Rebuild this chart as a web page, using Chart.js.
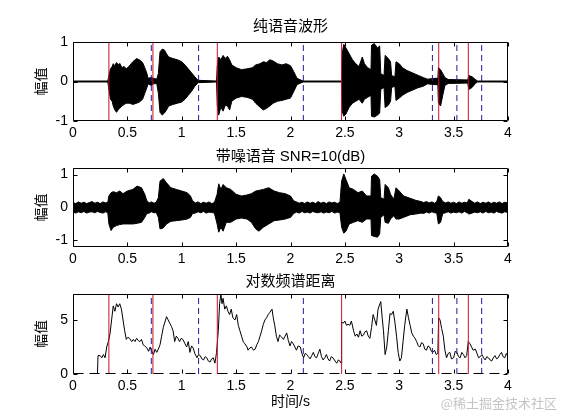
<!DOCTYPE html>
<html><head><meta charset="utf-8">
<script src="https://cdn.jsdelivr.net/npm/chart.js@4.4.1/dist/chart.umd.min.js"></script>
<style>
html,body{margin:0;padding:0;background:#fff;}
body{width:561px;height:420px;overflow:hidden;position:relative;}
canvas{position:absolute;left:0;}
#wm{position:absolute;right:4px;top:393px;font:13px "Noto Sans CJK SC",sans-serif;color:#c4c4c4;}
</style></head><body>
<canvas id="c1" width="561" height="140" style="top:0px"></canvas>
<canvas id="c2" width="561" height="140" style="top:130px"></canvas>
<canvas id="c3" width="561" height="165" style="top:255px"></canvas>
<div id="wm">@稀土掘金技术社区</div>
<script>
// ---------- data ----------
const titles = ['纯语音波形', '带噪语音 SNR=10(dB)', '对数频谱距离'];
const yLabel = '幅值';
const xLabel = '时间/s';
const xTicks = [0, 0.5, 1, 1.5, 2, 2.5, 3, 3.5, 4];
const yTicks1 = [-1, 0, 1];
const yTicks2 = [-1, 0, 1];
const yTicks3 = [0, 5];

// detected speech segment boundaries (s)
const segStarts = [0.33, 0.735, 1.327, 2.47, 3.363, 3.635];
const segEnds   = [0.72, 1.155, 2.118, 3.305, 3.53, 3.758];

// clean speech waveform envelope
const cleanT = [0,0.32,0.33,0.345,0.36,0.37,0.385,0.40,0.42,0.43,0.45,0.47,0.49,0.52,0.55,0.585,0.61,0.64,0.66,0.68,0.69,0.72,0.74,0.77,0.785,0.80,0.82,0.84,0.86,0.88,0.92,0.96,1.00,1.03,1.06,1.09,1.12,1.15,1.32,1.327,1.34,1.36,1.38,1.40,1.42,1.44,1.46,1.50,1.55,1.60,1.65,1.68,1.72,1.75,1.78,1.81,1.84,1.88,1.92,1.96,2.00,2.03,2.06,2.10,2.12,2.47,2.475,2.49,2.51,2.54,2.57,2.60,2.63,2.66,2.68,2.71,2.74,2.745,2.77,2.80,2.82,2.83,2.86,2.87,2.90,2.92,2.93,2.96,2.97,3.00,3.03,3.07,3.12,3.17,3.22,3.26,3.33,3.355,3.36,3.38,3.40,3.42,3.45,3.63,3.64,3.67,3.70,3.72,4.0];
const cleanUpper = [0.012,0.012,0.15,0.32,0.38,0.45,0.40,0.48,0.42,0.46,0.35,0.38,0.32,0.40,0.50,0.58,0.55,0.48,0.35,0.2,0.08,0.1,0.08,0.06,0.2,0.75,0.82,0.80,0.70,0.62,0.58,0.55,0.50,0.42,0.32,0.22,0.12,0.03,0.012,0.4,0.62,0.55,0.66,0.58,0.64,0.55,0.42,0.35,0.30,0.32,0.35,0.42,0.45,0.5,0.48,0.55,0.52,0.45,0.42,0.45,0.4,0.25,0.08,0.03,0.012,0.012,0.7,0.94,0.85,0.7,0.55,0.45,0.38,0.62,0.45,0.35,0.3,0.92,0.96,0.85,0.9,0.2,0.15,0.66,0.58,0.5,0.15,0.12,0.5,0.45,0.35,0.28,0.22,0.16,0.1,0.06,0.08,0.08,0.35,0.3,0.2,0.1,0.05,0.04,0.15,0.12,0.05,0.012,0.012];
const cleanLower = [-0.012,-0.012,-0.2,-0.45,-0.5,-0.62,-0.72,-0.78,-0.7,-0.68,-0.62,-0.58,-0.55,-0.55,-0.58,-0.55,-0.52,-0.45,-0.3,-0.15,-0.06,-0.1,-0.06,-0.05,-0.3,-0.78,-0.85,-0.8,-0.72,-0.62,-0.58,-0.55,-0.52,-0.45,-0.35,-0.25,-0.12,-0.03,-0.012,-0.6,-0.85,-0.65,-0.75,-0.6,-0.62,-0.72,-0.5,-0.42,-0.38,-0.4,-0.45,-0.55,-0.65,-0.72,-0.68,-0.62,-0.55,-0.5,-0.48,-0.45,-0.42,-0.25,-0.08,-0.03,-0.012,-0.012,-0.75,-0.88,-0.82,-0.65,-0.55,-0.5,-0.45,-0.55,-0.45,-0.4,-0.35,-0.88,-0.9,-0.85,-0.8,-0.2,-0.15,-0.66,-0.6,-0.5,-0.15,-0.12,-0.48,-0.42,-0.35,-0.28,-0.22,-0.16,-0.12,-0.06,-0.08,-0.08,-0.55,-0.62,-0.35,-0.1,-0.05,-0.04,-0.2,-0.15,-0.05,-0.012,-0.012];

// noisy speech waveform envelope
const noisyT = [0,0.025,0.05,0.075,0.10,0.125,0.15,0.175,0.20,0.225,0.25,0.275,0.30,0.32,
  0.33,0.35,0.37,0.40,0.43,0.46,0.50,0.55,0.59,0.63,0.66,0.68,
  0.70,0.72,0.745,0.765,
  0.785,0.80,0.83,0.86,0.90,0.95,1.00,1.05,1.08,1.10,
  1.125,1.15,1.175,1.20,1.225,1.25,1.275,1.30,
  1.325,1.34,1.36,1.38,1.41,1.45,1.50,1.55,1.60,1.64,1.68,1.71,1.75,1.80,1.85,1.90,1.95,2.00,2.03,
  2.055,2.08,2.105,2.13,2.155,2.18,2.205,2.23,2.255,2.28,2.305,2.33,2.355,2.38,2.405,2.43,2.455,
  2.47,2.49,2.51,2.54,2.58,2.62,2.66,2.70,2.74,2.745,2.77,2.80,2.82,2.83,2.86,2.87,2.90,2.92,2.95,2.97,3.00,3.04,3.10,3.15,3.20,
  3.225,3.25,3.275,3.30,3.325,3.345,
  3.36,3.38,3.40,
  3.425,3.45,3.475,3.50,3.525,3.55,3.575,3.60,3.625,
  3.64,3.67,
  3.695,3.72,3.745,3.77,3.795,3.82,3.845,3.87,3.895,3.92,3.945,3.97,4.0];
const noisyUpper = [0.15,0.12,0.17,0.13,0.16,0.12,0.15,0.18,0.13,0.16,0.12,0.17,0.14,0.16,
  0.35,0.45,0.48,0.45,0.5,0.42,0.5,0.55,0.65,0.6,0.4,0.2,
  0.14,0.17,0.13,0.16,
  0.3,0.8,0.88,0.75,0.6,0.55,0.5,0.45,0.35,0.2,
  0.14,0.17,0.12,0.16,0.13,0.17,0.12,0.15,
  0.4,0.72,0.55,0.7,0.6,0.55,0.4,0.35,0.38,0.42,0.5,0.52,0.55,0.6,0.5,0.45,0.42,0.35,0.2,
  0.17,0.13,0.16,0.12,0.17,0.13,0.16,0.12,0.18,0.13,0.16,0.12,0.17,0.14,0.16,0.12,0.16,
  0.8,1.02,0.85,0.6,0.55,0.45,0.5,0.35,0.35,0.95,1.02,0.95,0.85,0.3,0.25,0.7,0.6,0.4,0.25,0.6,0.5,0.35,0.28,0.22,0.18,
  0.15,0.18,0.14,0.17,0.13,0.18,
  0.35,0.3,0.18,
  0.14,0.17,0.13,0.16,0.12,0.17,0.13,0.16,0.14,
  0.25,0.18,
  0.13,0.17,0.12,0.16,0.13,0.17,0.12,0.16,0.13,0.17,0.12,0.16,0.14];
const noisyLower = [-0.14,-0.17,-0.13,-0.16,-0.12,-0.17,-0.14,-0.13,-0.16,-0.12,-0.15,-0.17,-0.13,-0.16,
  -0.5,-0.7,-0.6,-0.55,-0.52,-0.5,-0.5,-0.5,-0.48,-0.45,-0.3,-0.18,
  -0.17,-0.13,-0.16,-0.15,
  -0.3,-0.65,-0.62,-0.5,-0.42,-0.4,-0.38,-0.35,-0.3,-0.18,
  -0.17,-0.13,-0.16,-0.12,-0.17,-0.14,-0.15,-0.17,
  -0.5,-0.75,-0.6,-0.72,-0.45,-0.45,-0.35,-0.32,-0.35,-0.45,-0.65,-0.72,-0.6,-0.5,-0.4,-0.38,-0.35,-0.3,-0.18,
  -0.14,-0.17,-0.12,-0.16,-0.14,-0.17,-0.12,-0.15,-0.16,-0.13,-0.17,-0.14,-0.16,-0.12,-0.17,-0.14,-0.16,
  -0.6,-0.78,-0.72,-0.5,-0.45,-0.4,-0.45,-0.35,-0.35,-0.85,-0.88,-0.9,-0.8,-0.3,-0.22,-0.45,-0.48,-0.35,-0.25,-0.35,-0.35,-0.3,-0.22,-0.2,-0.17,
  -0.18,-0.14,-0.17,-0.13,-0.16,-0.17,
  -0.5,-0.45,-0.18,
  -0.16,-0.13,-0.17,-0.14,-0.16,-0.13,-0.17,-0.12,-0.16,
  -0.2,-0.17,
  -0.14,-0.16,-0.13,-0.17,-0.12,-0.16,-0.14,-0.17,-0.12,-0.15,-0.17,-0.13,-0.15];

// log spectral distance
const lsdT = [0.225,0.23,0.25,0.265,0.28,0.295,0.31,0.325,0.34,0.355,0.37,0.385,0.40,0.415,0.43,0.445,0.46,0.475,0.49,0.505,0.52,0.54,0.555,0.57,0.585,0.60,0.615,0.63,0.645,0.66,0.68,0.695,0.71,0.72,0.74,0.755,0.77,0.785,0.80,0.815,0.83,0.845,0.86,0.875,0.89,0.905,0.92,0.935,0.95,0.965,0.98,0.995,1.01,1.03,1.045,1.06,1.075,1.09,1.105,1.12,1.14,1.155,1.17,1.185,1.20,1.215,1.23,1.245,1.26,1.275,1.29,1.305,1.32,1.336,1.348,1.36,1.37,1.38,1.395,1.41,1.425,1.44,1.455,1.47,1.49,1.505,1.52,1.535,1.55,1.565,1.58,1.60,1.61,1.625,1.64,1.66,1.675,1.69,1.705,1.72,1.735,1.75,1.765,1.78,1.795,1.81,1.83,1.84,1.855,1.87,1.885,1.90,1.92,1.935,1.95,1.965,1.98,1.995,2.01,2.025,2.04,2.055,2.07,2.09,2.105,2.12,2.135,2.15,2.165,2.18,2.195,2.21,2.225,2.24,2.255,2.27,2.285,2.30,2.315,2.33,2.345,2.36,2.375,2.39,2.41,2.425,2.44,2.455,2.465,2.47,2.485,2.50,2.515,2.53,2.545,2.56,2.58,2.595,2.61,2.625,2.64,2.655,2.67,2.685,2.70,2.715,2.73,2.745,2.76,2.775,2.79,2.805,2.83,2.845,2.855,2.87,2.885,2.90,2.915,2.93,2.945,2.96,2.975,2.99,3.005,3.02,3.035,3.05,3.07,3.085,3.10,3.115,3.13,3.145,3.16,3.175,3.19,3.205,3.22,3.235,3.25,3.265,3.28,3.295,3.31,3.325,3.34,3.355,3.362,3.375,3.39,3.405,3.42,3.435,3.45,3.465,3.48,3.50,3.515,3.53,3.545,3.56,3.575,3.59,3.605,3.62,3.635,3.65,3.665,3.68,3.70,3.715,3.73,3.745,3.76,3.775,3.79,3.805,3.82,3.835,3.85,3.865,3.88,3.895,3.91,3.925,3.94,3.955,3.97,3.985,4.0];
const lsdV = [0,1.7,1.7,1.5,1.8,1.5,2.5,3.0,3.7,5.0,6.3,5.8,6.5,6.2,6.5,6.0,5.0,4.0,3.2,3.4,3.3,3.0,3.2,3.0,3.3,3.1,3.0,3.2,2.7,2.6,2.4,2.1,2.5,2.2,1.8,2.3,2.0,2.3,2.7,3.5,4.3,4.8,5.3,5.0,4.7,4.4,4.0,3.0,3.5,3.3,3.0,3.3,3.2,2.8,2.5,3.0,2.0,2.6,2.4,1.9,1.5,1.8,1.7,1.4,1.3,1.6,1.5,1.2,1.1,1.4,1.5,1.0,2.0,4.0,6.5,7.4,6.5,7.0,6.0,6.3,5.8,5.5,6.0,5.2,5.0,5.5,4.5,4.0,3.5,3.0,2.8,2.5,2.2,2.4,2.5,2.2,2.3,2.7,3.0,3.5,4.0,4.6,5.0,5.2,5.5,5.7,6.0,5.3,4.5,3.5,3.0,3.6,3.4,3.2,3.5,3.8,3.1,2.6,3.0,2.8,2.5,2.2,2.6,2.5,1.9,1.5,1.9,1.8,1.6,1.4,1.7,2.0,1.6,1.5,1.9,2.3,1.6,1.3,1.5,1.8,1.4,1.2,1.6,1.5,1.2,1.0,1.3,1.2,1.0,4.8,4.7,4.9,4.5,4.6,4.5,4.9,4.0,3.5,3.7,3.4,4.0,3.5,3.6,3.9,4.0,3.5,3.3,4.3,5.5,5.0,4.5,6.0,6.7,5.0,4.0,1.8,2.5,4.0,5.6,5.5,5.8,4.8,3.5,2.0,1.2,1.5,3.0,4.5,6.0,5.2,4.5,3.8,3.5,3.3,3.0,2.6,2.5,2.9,2.8,2.3,2.2,2.6,2.5,2.1,2.0,2.2,1.8,1.9,5.2,5.0,4.2,3.5,2.2,1.5,1.9,2.0,1.4,1.5,2.1,2.0,1.6,1.5,2.0,1.8,1.5,1.7,3.0,2.8,2.5,2.2,2.3,1.9,1.5,1.6,1.8,1.5,1.3,1.6,1.5,1.3,1.2,1.5,1.7,1.4,1.5,1.8,2.0,1.6,1.5,1.9,1.6];

// ---------- rendering ----------
const FONT = '"Liberation Sans", "Noto Sans CJK SC", sans-serif';
const RED = '#c8102e';
const BLUE = '#1c1c9a';

function pts(xs, ys) { return xs.map((x, i) => ({x: x, y: ys[i]})); }

function boundaryDatasets(y0, y1) {
  const ds = [];
  segStarts.forEach(t => ds.push({data: [{x: t, y: y0}, {x: t, y: y1}], borderColor: RED, borderWidth: 1, pointRadius: 0, fill: false}));
  segEnds.forEach(t => ds.push({data: [{x: t, y: y0}, {x: t, y: y1}], borderColor: BLUE, borderWidth: 1, borderDash: [6, 4], pointRadius: 0, fill: false}));
  return ds;
}

const frame = {
  id: 'frame',
  afterDatasetsDraw(chart, args, opts) {
    const {ctx, chartArea: a, scales} = chart;
    ctx.save();
    ctx.strokeStyle = '#000';
    ctx.lineWidth = 1;
    const L = Math.round(a.left) + 0.5, R = Math.round(a.right) - 0.5;
    const T = Math.round(a.top) + 0.5, B = Math.round(a.bottom) - 0.5;
    ctx.beginPath();
    ctx.moveTo(L, B); ctx.lineTo(L, T); ctx.lineTo(R, T); ctx.lineTo(R, B);
    ctx.stroke();
    ctx.beginPath();
    if (opts.dashedBottom) ctx.setLineDash([10, 6]);
    ctx.moveTo(L, B); ctx.lineTo(R, B);
    ctx.stroke();
    ctx.setLineDash([]);
    const tl = 4;
    ctx.beginPath();
    scales.x.ticks.forEach(t => {
      const x = Math.round(scales.x.getPixelForValue(t.value)) + 0.5;
      ctx.moveTo(x, T); ctx.lineTo(x, T + tl);
      ctx.moveTo(x, B); ctx.lineTo(x, B - tl);
    });
    scales.y.ticks.forEach(t => {
      const y = Math.round(scales.y.getPixelForValue(t.value)) + 0.5;
      ctx.moveTo(L, y); ctx.lineTo(L + tl, y);
      ctx.moveTo(R, y); ctx.lineTo(R - tl, y);
    });
    ctx.stroke();
    ctx.restore();
  }
};

function makeChart(id, cfg) {
  const xScale = {
    type: 'linear', min: 0, max: 4,
    grid: {display: false, drawTicks: false}, border: {display: false},
    afterBuildTicks: s => { s.ticks = xTicks.map(v => ({value: v})); },
    ticks: {color: '#000', font: {family: FONT, size: 14}, padding: 4, maxRotation: 0, autoSkip: false, callback: v => String(v)},
    afterFit: s => { s.height = cfg.xh; }
  };
  if (cfg.xTitle) {
    xScale.title = {display: true, text: cfg.xTitle, color: '#000', font: {family: FONT, size: 14}, padding: {top: 0, bottom: cfg.xTitlePad}};
  }
  return new Chart(document.getElementById(id), {
    type: 'line',
    data: {datasets: cfg.datasets},
    options: {
      responsive: false, animation: false, devicePixelRatio: 1,
      layout: {padding: {left: 0, right: 53, top: 0, bottom: 0}},
      plugins: {
        legend: {display: false}, tooltip: {enabled: false},
        title: {display: true, fullSize: false, text: cfg.title, color: '#000', font: {family: FONT, size: 15, weight: 'normal'}, padding: {top: cfg.tpt, bottom: cfg.tpb}},
        frame: {dashedBottom: !!cfg.dashedBottom}
      },
      elements: {line: {tension: 0}, point: {radius: 0}},
      scales: {
        x: xScale,
        y: {
          type: 'linear', min: cfg.ymin, max: cfg.ymax,
          grid: {display: false, drawTicks: false}, border: {display: false},
          afterBuildTicks: s => { s.ticks = cfg.yTicks.map(v => ({value: v})); },
          ticks: {color: '#000', font: {family: FONT, size: 14}, padding: 5, callback: v => String(v)},
          title: {display: true, text: yLabel, color: '#000', font: {family: FONT, size: 14}, padding: {top: 34, bottom: 0}},
          afterFit: s => { s.width = 73; }
        }
      }
    },
    plugins: [frame]
  });
}

// plot 1: clean speech
makeChart('c1', {
  title: titles[0], tpt: 18, tpb: 6, xh: 19,
  ymin: -1, ymax: 1, yTicks: yTicks1,
  datasets: boundaryDatasets(-1, 1).concat([
    {data: pts(cleanT, cleanUpper), borderColor: '#000', borderWidth: 1, backgroundColor: '#000', fill: '+1', pointRadius: 0},
    {data: pts(cleanT, cleanLower), borderColor: '#000', borderWidth: 1, fill: false, pointRadius: 0}
  ])
});

// plot 2: noisy speech
makeChart('c2', {
  title: titles[1], tpt: 18, tpb: 2, xh: 23,
  ymin: -1.2, ymax: 1.2, yTicks: yTicks2,
  datasets: [
    {data: pts(noisyT, noisyUpper), borderColor: '#000', borderWidth: 1, backgroundColor: '#000', fill: '+1', pointRadius: 0},
    {data: pts(noisyT, noisyLower), borderColor: '#000', borderWidth: 1, fill: false, pointRadius: 0}
  ]
});

// plot 3: log spectral distance
makeChart('c3', {
  title: titles[2], tpt: 18, tpb: 3, xh: 46, xTitle: xLabel, xTitlePad: 9,
  ymin: 0, ymax: 7.4, yTicks: yTicks3, dashedBottom: true,
  datasets: boundaryDatasets(0, 7.4).concat([
    {data: pts(lsdT, lsdV), borderColor: '#000', borderWidth: 1, fill: false, pointRadius: 0}
  ])
});
</script>
</body></html>
